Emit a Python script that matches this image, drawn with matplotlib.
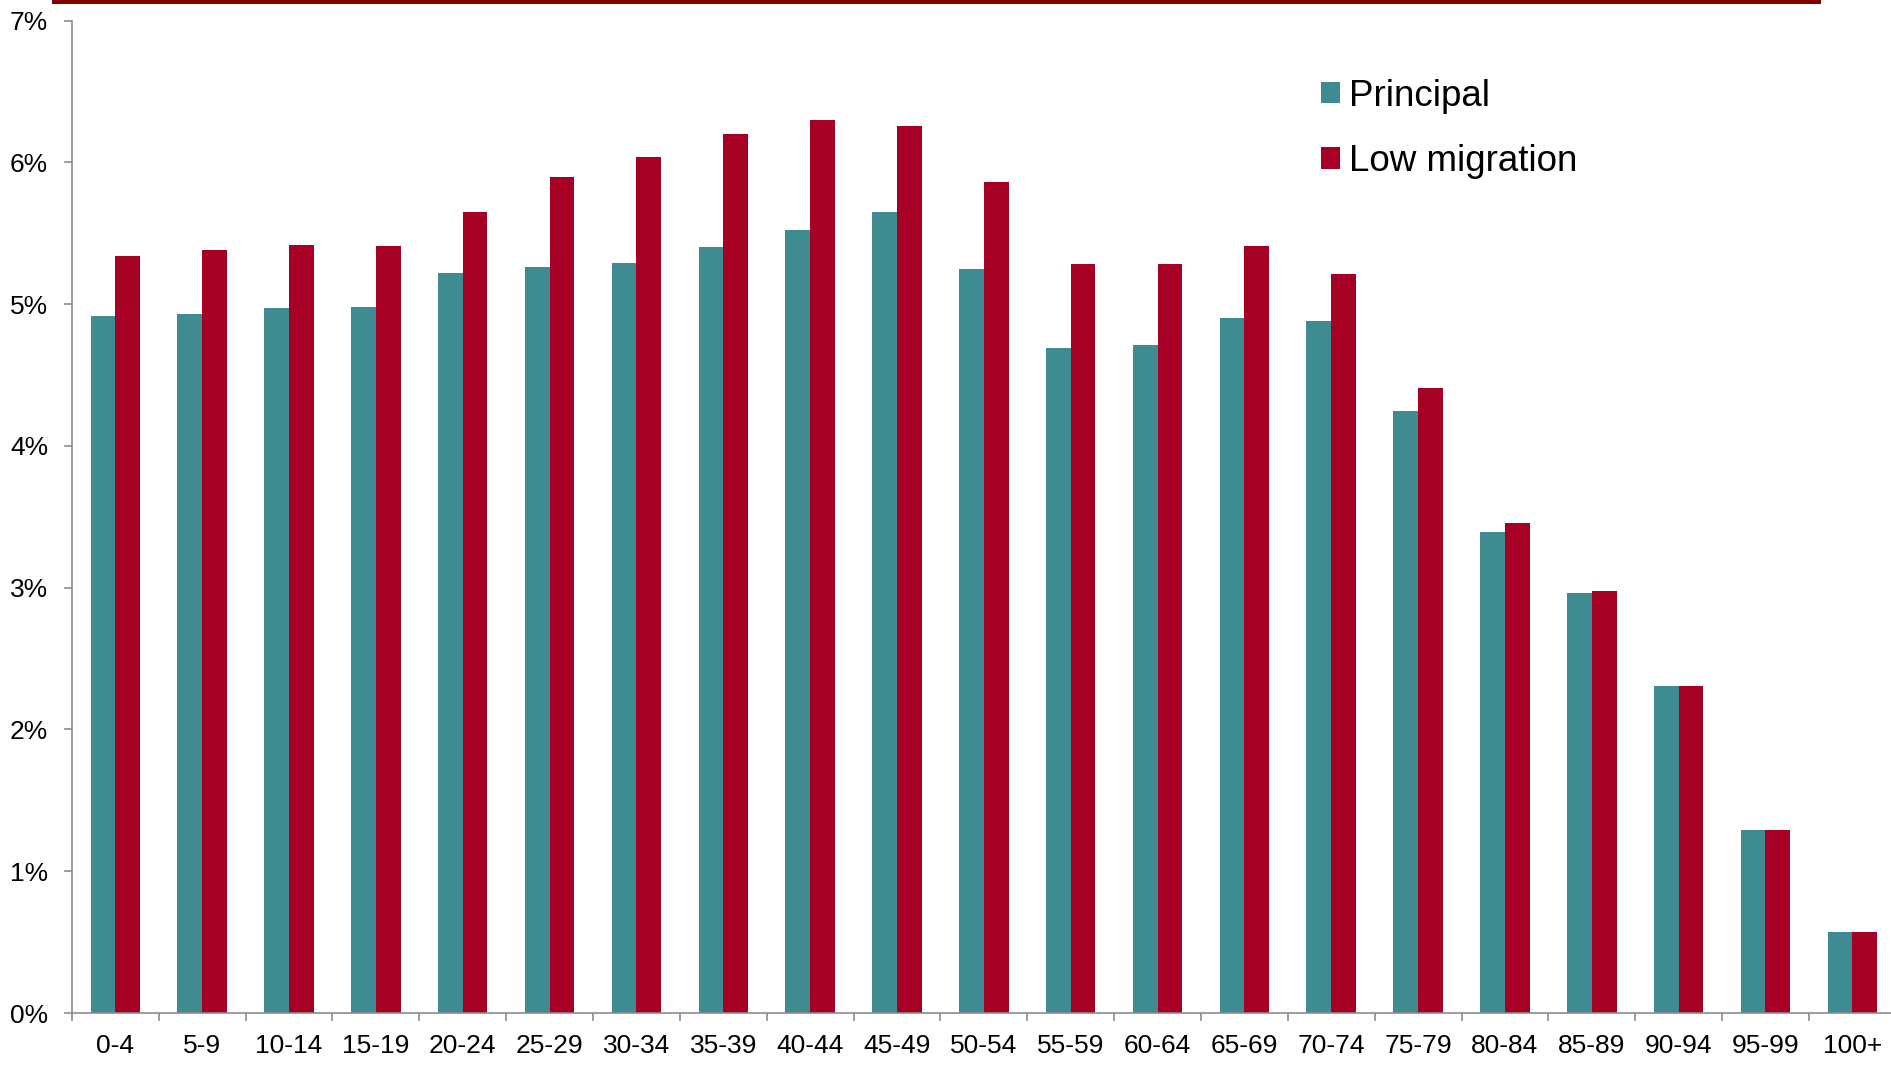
import matplotlib
matplotlib.use("Agg")
import matplotlib.pyplot as plt
from matplotlib.patches import Rectangle
from matplotlib.ticker import FuncFormatter, MultipleLocator
import numpy as np

plt.rcParams['font.family'] = ['Liberation Sans', 'DejaVu Sans']

age_groups = ['0-4', '5-9', '10-14', '15-19', '20-24', '25-29', '30-34', '35-39',
              '40-44', '45-49', '50-54', '55-59', '60-64', '65-69', '70-74', '75-79',
              '80-84', '85-89', '90-94', '95-99', '100+']
principal = [4.92, 4.93, 4.97, 4.98, 5.22, 5.26, 5.29, 5.40, 5.52, 5.65, 5.25,
             4.69, 4.71, 4.90, 4.88, 4.25, 3.39, 2.96, 2.31, 1.29, 0.57]
low_migration = [5.34, 5.38, 5.42, 5.41, 5.65, 5.90, 6.04, 6.20, 6.30, 6.26, 5.86,
                 5.28, 5.28, 5.41, 5.21, 4.41, 3.46, 2.98, 2.31, 1.29, 0.57]

TEAL = '#3F8B92'
RED = '#A60024'
AXIS_GREY = '#8C8C8C'

fig = plt.figure(figsize=(18.91, 10.65), dpi=100)
ax = fig.add_axes([0.038, 0.0488, 0.962, 0.9318])

x = np.arange(len(age_groups))
w = 0.285
ax.bar(x - w / 2, principal, width=w, color=TEAL, label='Principal')
ax.bar(x + w / 2, low_migration, width=w, color=RED, label='Low migration')

ax.set_xlim(-0.5, 20.445)
ax.set_ylim(0, 7)

# y axis: whole percents
ax.yaxis.set_major_locator(MultipleLocator(1))
ax.yaxis.set_major_formatter(FuncFormatter(lambda v, pos: f'{v:.0f}%'))
ax.tick_params(axis='y', length=6, width=1.2, color=AXIS_GREY, pad=11, labelsize=19)

# x axis: labels at the centres, tick marks between groups
ax.set_xticks(x)
ax.set_xticklabels(age_groups)
ax.set_xticks(np.arange(len(age_groups)) - 0.5, minor=True)
ax.tick_params(axis='x', which='major', length=0, pad=15, labelsize=19)
ax.tick_params(axis='x', which='minor', length=6, width=1.2, color=AXIS_GREY)

for side in ['top', 'right']:
    ax.spines[side].set_visible(False)
for side in ['left', 'bottom']:
    ax.spines[side].set_color(AXIS_GREY)
    ax.spines[side].set_linewidth(1.2)

ax.legend(loc='upper left', bbox_to_anchor=(0.6986, 0.926), bbox_transform=fig.transFigure,
          frameon=False, fontsize=26.5, handlelength=0.52, handleheight=0.52,
          handletextpad=0.25, labelspacing=0.82, borderpad=0, borderaxespad=0)

# dark red rule along the top edge
fig.add_artist(Rectangle((0.0275, 1 - 3.5 / 1065), 0.9355, 3.5 / 1065,
                         transform=fig.transFigure, color='#800000', lw=0))

plt.savefig('out.png', dpi=100)
